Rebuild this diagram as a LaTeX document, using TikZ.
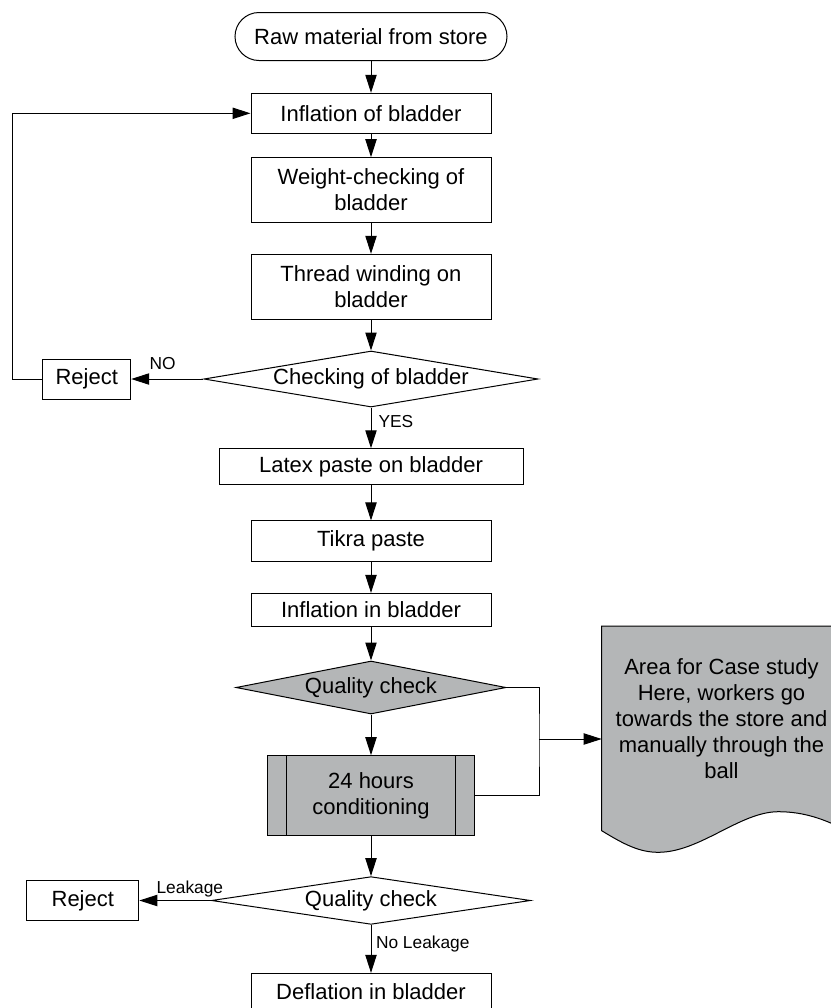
\documentclass[tikz,border=0pt]{standalone}
\usepackage{fontspec}
\setmainfont{Liberation Sans}
\usepackage{tikz}
\usetikzlibrary{arrows.meta,shapes.geometric,calc}
\definecolor{casegray}{HTML}{B4B6B7}

\begin{document}
\begin{tikzpicture}[
    x=0.75pt, y=-0.75pt,
    font=\fontsize{16.5}{19.5}\selectfont,
    terminal/.style={draw, rounded corners=18pt, minimum width=204pt,
                     minimum height=36pt, inner sep=0pt, line width=0.75pt},
    process/.style={draw, align=center, minimum width=180pt,
                    inner sep=0pt, line width=0.75pt},
    decision/.style={draw, diamond, inner sep=0pt, line width=0.75pt},
    rejectbox/.style={draw, minimum height=30pt, inner sep=0pt, line width=0.75pt},
    lbl/.style={font=\fontsize{13}{15}\selectfont, inner sep=1pt},
    arrow/.style={-{Triangle[length=13.5pt, width=8.5pt]}, line width=0.75pt},
    link/.style={line width=0.75pt},
    docshape/.style={draw, fill=casegray, line width=0.75pt}
]
\useasboundingbox (0,0) rectangle (831,1008);

\node[terminal] (store) at (371,36.5) {Raw material from store};
\node[process, minimum height=30pt] (inflate) at (371,113.3) {Inflation of bladder};
\node[process, minimum height=48.5pt] (weigh) at (371,190) {Weight-checking of\\bladder};
\node[process, minimum height=48.75pt] (winding) at (371,286.8) {Thread winding on\\bladder};
\node[decision, minimum width=250.5pt, minimum height=42pt, aspect=6] (checkbl) at (371,379) {Checking of bladder};
\node[rejectbox, minimum width=66pt] (rejectA) at (86.7,379) {Reject};
\node[process, minimum width=228pt, minimum height=26.6pt] (latex) at (371,466.5) {Latex paste on bladder};
\node[process, minimum height=30.5pt] (tikra) at (371,541.3) {Tikra paste};
\node[process, minimum height=24.5pt] (inflin) at (371,609.7) {Inflation in bladder};
\node[decision, fill=casegray, minimum width=202.5pt, minimum height=39.75pt, aspect=5] (qualA) at (371,687.5) {Quality check};
\node[process, fill=casegray, minimum width=155.7pt, minimum height=60.2pt] (condition) at (371,795.8) {24 hours\\conditioning};
\draw[link] ([xshift=15pt]condition.north west) -- ([xshift=15pt]condition.south west);
\draw[link] ([xshift=-15pt]condition.north east) -- ([xshift=-15pt]condition.south east);
\node[decision, minimum width=239.25pt, minimum height=35.8pt, aspect=6.7] (qualB) at (371,900.5) {Quality check};
\node[rejectbox, minimum width=84pt] (rejectB) at (82.8,900.5) {Reject};
\node[process, minimum height=27.5pt] (deflate) at (371,991.7) {Deflation in bladder};

% case study note
\draw[docshape] (601.7,626) -- (841.7,626) -- (841.7,828)
    .. controls (825,820) and (805,811.7) .. (778.3,811.7)
    .. controls (740,811.7) and (700,852.3) .. (658.3,852.3)
    .. controls (640,852.3) and (625,845) .. (601.7,830.7) -- cycle;
\node[align=center, inner sep=0pt] (casestudy) at (721.5,719)
    {Area for Case study\\Here, workers go\\towards the store and\\manually through the\\ball};
\coordinate (junction) at (539,739);
\coordinate (docin) at (601.7,739);

\draw[arrow] (store) -- (inflate);
\draw[arrow] (inflate) -- (weigh);
\draw[arrow] (weigh) -- (winding);
\draw[arrow] (winding) -- (checkbl);
\draw[arrow] (checkbl) -- node[lbl, above=5.5pt, pos=0.566] {NO} (rejectA);
\draw[arrow] (rejectA.west) -- ++(-30,0) |- (inflate.west);
\draw[arrow] (checkbl) -- node[lbl, right=4.25pt, pos=0.34] {YES} (latex);
\draw[arrow] (latex) -- (tikra);
\draw[arrow] (tikra) -- (inflin);
\draw[arrow] (inflin) -- (qualA);
\draw[arrow] (qualA) -- (condition);
\draw[link] (qualA.east) -| (junction) |- (condition.east);
\draw[arrow] (junction) -- (docin);
\draw[arrow] (condition) -- (qualB);
\draw[arrow] (qualB) -- node[lbl, above=1.5pt, pos=0.295] {Leakage} (rejectB);
\draw[arrow] (qualB) -- node[lbl, right=2.4pt, pos=0.39] {No Leakage} (deflate);
\end{tikzpicture}
\end{document}
